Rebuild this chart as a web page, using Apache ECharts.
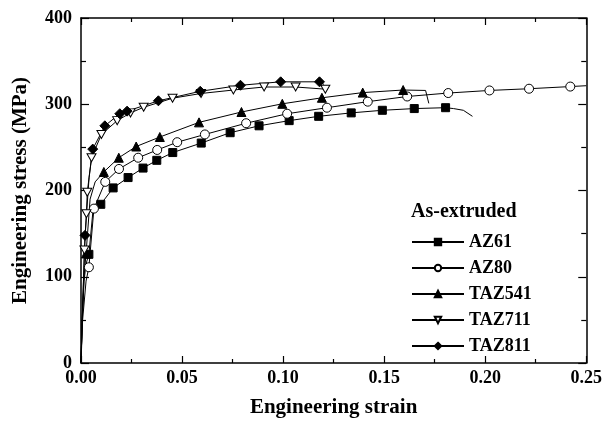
<!DOCTYPE html>
<html>
<head>
<meta charset="utf-8">
<title>Engineering stress-strain</title>
<script src="https://cdn.jsdelivr.net/npm/echarts@6/dist/echarts.min.js"></script>
<style>
  html, body { margin: 0; padding: 0; background: #fff; }
  #chart { width: 605px; height: 423px; }
</style>
</head>
<body>
<div id="chart"></div>
<script>
// strain / stress (MPa)
// "marks" carry a symbol, "plain" are line-only points
const az61Marks = [[0.0039,126],[0.0098,184],[0.0159,203],[0.0233,215],[0.0307,226],[0.0375,235],[0.0454,244],[0.0595,255],[0.0738,267],[0.0881,275],[0.103,281],[0.1176,286],[0.1337,290],[0.1491,293],[0.1649,295],[0.1804,296]];
const az61Plain = [[0,0],[0.0006,50],[0.0015,95],[0.0025,115],[0.0059,176],[0.1843,295],[0.1892,293],[0.1937,286]];

const az80Marks = [[0.0039,111],[0.0064,179],[0.012,210],[0.0188,225],[0.0283,238],[0.0377,247],[0.0476,256],[0.0613,265],[0.0817,278],[0.102,289],[0.1217,296],[0.1419,303],[0.1614,309],[0.1817,313],[0.2021,316],[0.2217,318],[0.2421,320.5]];
const az80Plain = [[0,0],[0.0008,50],[0.0025,95],[0.25,321.5]];

const taz541Marks = [[0.0025,127],[0.0113,221.5],[0.0187,238],[0.0273,251],[0.039,262],[0.0584,279],[0.0794,291],[0.0996,300.5],[0.1192,307.5],[0.1394,313.5],[0.1594,316.5]];
const taz541Plain = [[0,0],[0.0006,50],[0.0015,100],[0.0045,190],[0.007,210],[0.1705,316],[0.1721,301]];

const taz711Marks = [[0.0017,131],[0.0027,173],[0.0031,198],[0.0052,238],[0.0101,265],[0.0179,281],[0.0245,290],[0.031,296.5],[0.0453,307],[0.0594,312.5],[0.0754,316.5],[0.0906,320],[0.1062,320],[0.1209,317.5]];
const taz711Plain = [[0,0],[0.0006,50]];

const taz811Marks = [[0.002,148],[0.0058,248],[0.0118,275],[0.0192,289],[0.0228,292],[0.0383,304],[0.059,315],[0.0789,322],[0.0988,326],[0.118,326]];
const taz811Plain = [[0,0],[0.0006,50],[0.004,215],[0.1202,323]];

const names = ["AZ61", "AZ80", "TAZ541", "TAZ711", "TAZ811"];

const font = "'Liberation Serif', 'Times New Roman', serif";
const downTri = "path://M0,0L10,0L5,9Z";

function buildData(marks, plain) {
  var pts = marks.map((p) => ({ value: p }))
    .concat(plain.map((p) => ({ value: p, symbol: "none" })));
  pts.sort((a, b) => a.value[0] - b.value[0]);
  return pts;
}

function makeSeries(name, marks, plain, symbol, size, fill) {
  return {
    name: name,
    type: "line",
    data: buildData(marks, plain),
    symbol: symbol,
    symbolSize: size,
    showAllSymbol: true,
    lineStyle: { color: "#000", width: 1 },
    itemStyle: { color: fill, borderColor: "#000", borderWidth: 1 },
    emphasis: { disabled: true },
    z: 3,
  };
}

const tickFont = { fontFamily: font, fontWeight: "bold", fontSize: 18, color: "#000" };
const nameFont = { fontFamily: font, fontWeight: "bold", fontSize: 21, color: "#000" };

function axLine() {
  return { show: true, onZero: false, lineStyle: { color: "#000", width: 1.5 } };
}
function ticks(len) {
  return { show: true, inside: true, length: len, lineStyle: { color: "#000", width: 1.2 } };
}
function minor(len) {
  return { show: true, splitNumber: 2, length: len, lineStyle: { color: "#000", width: 1.2 } };
}

var mychart = echarts.init(document.getElementById("chart"));

var option = {
  animation: false,
  backgroundColor: "#fff",
  title: {
    text: "As-extruded",
    left: 411,
    top: 202,
    padding: 0,
    textStyle: { fontFamily: font, fontWeight: "bold", fontSize: 20, color: "#000" },
  },
  legend: {
    orient: "vertical",
    left: 411,
    top: 233,
    padding: 0,
    itemWidth: 52,
    itemHeight: 8,
    itemGap: 8,
    selectedMode: false,
    data: names,
    textStyle: { fontFamily: font, fontWeight: "bold", fontSize: 18, color: "#000", lineHeight: 18 },
  },
  grid: { left: 81, right: 16, top: 18, bottom: 56 },
  xAxis: [
    {
      type: "value",
      min: 0,
      max: 0.25,
      interval: 0.05,
      name: "Engineering strain",
      nameLocation: "middle",
      nameGap: 34,
      nameTextStyle: nameFont,
      axisLine: axLine(),
      axisTick: ticks(7),
      minorTick: minor(4),
      axisLabel: { formatter: (v) => v.toFixed(2), margin: 6, ...tickFont },
      splitLine: { show: false },
    },
    {
      type: "value",
      position: "top",
      min: 0,
      max: 0.25,
      interval: 0.05,
      axisLine: axLine(),
      axisTick: ticks(7),
      minorTick: minor(4),
      axisLabel: { show: false },
      splitLine: { show: false },
    },
  ],
  yAxis: [
    {
      type: "value",
      min: 0,
      max: 400,
      interval: 100,
      name: "Engineering stress (MPa)",
      nameLocation: "middle",
      nameGap: 50,
      nameTextStyle: nameFont,
      axisLine: axLine(),
      axisTick: ticks(8),
      minorTick: minor(5),
      axisLabel: { margin: 9, ...tickFont },
      splitLine: { show: false },
    },
    {
      type: "value",
      position: "right",
      min: 0,
      max: 400,
      interval: 100,
      axisLine: axLine(),
      axisTick: ticks(8),
      minorTick: minor(5),
      axisLabel: { show: false },
      splitLine: { show: false },
    },
  ],
  series: [
    makeSeries(names[0], az61Marks, az61Plain, "rect", 8, "#000"),
    makeSeries(names[1], az80Marks, az80Plain, "circle", 9, "#fff"),
    makeSeries(names[2], taz541Marks, taz541Plain, "triangle", 9, "#000"),
    makeSeries(names[3], taz711Marks, taz711Plain, downTri, [9, 8], "#fff"),
    makeSeries(names[4], taz811Marks, taz811Plain, "diamond", 10, "#000"),
  ],
};

mychart.setOption(option);
</script>
</body>
</html>
